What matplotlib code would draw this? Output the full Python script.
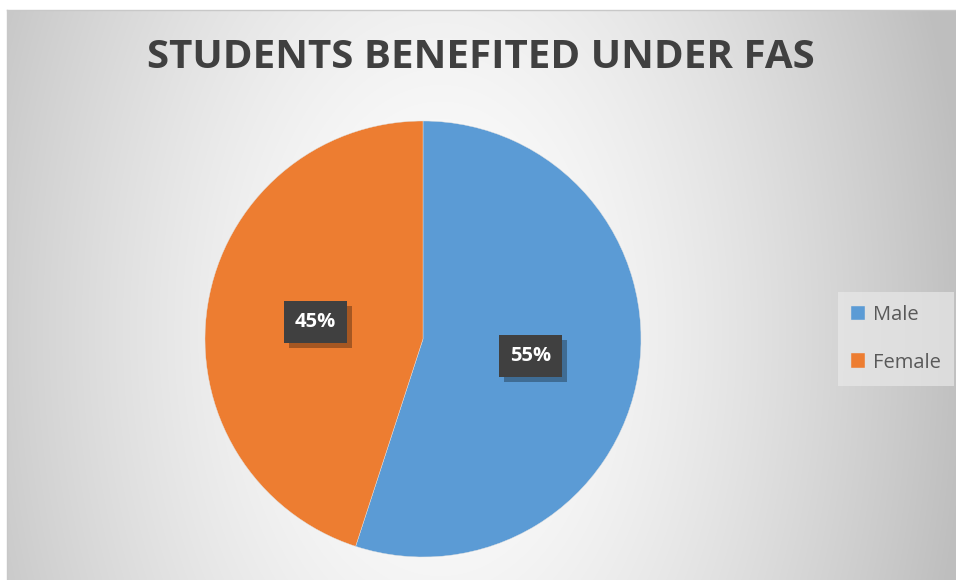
import numpy as np
import matplotlib
matplotlib.use('Agg')
from matplotlib import pyplot as plt
from matplotlib import patheffects as pe

title = 'STUDENTS BENEFITED UNDER FAS'
labels = ['Male', 'Female']
values = [55, 45]
colors = ['#5B9BD5', '#ED7D31']

W, H = 956, 580
fig = plt.figure(figsize=(W / 100, H / 100), dpi=100)
fig.patch.set_facecolor('white')

# radial grey background (chart area)
bg = fig.add_axes([0, 0, 1, 1])
yy, xx = np.mgrid[0:H, 0:W]
u = np.hypot((xx - 440) / 470.0, (yy - 330) / 756.0)
g = 255 - 54 * u ** 1.5
g = np.clip(g, 190, 255) / 255.0
img = np.dstack([g, g, g])
img[:10, :] = 1.0
img[:, :7] = 1.0
bg.imshow(img, extent=[0, W, H, 0], interpolation='bilinear')
bg.plot([7, W], [10, 10], color='#c8c8c8', lw=1)
bg.plot([7, 7], [10, H], color='#c8c8c8', lw=1)
bg.set_xlim(0, W), bg.set_ylim(H, 0)
bg.axis('off')

# pie
cx, cy, r = 423, 339, 218
ax = fig.add_axes([(cx - r) / W, (H - cy - r) / H, 2 * r / W, 2 * r / H])
wedges, texts, autotexts = ax.pie(values, colors=colors, startangle=90, counterclock=False,
                                  autopct='%1.0f%%', pctdistance=0.5,
                                  wedgeprops=dict(edgecolor='#e0e0e0', linewidth=0.3))
for t in autotexts:
    t.set_color('white')
    t.set_fontsize(14.5)
    t.set_fontweight('bold')
    t.set_fontfamily('Open Sans')
    t.set_bbox(dict(boxstyle='square,pad=0.55', facecolor='#404040', edgecolor='none'))
    t.get_bbox_patch().set_path_effects([
        pe.SimplePatchShadow(offset=(3.5, -3.5), shadow_rgbFace='black', alpha=0.3),
        pe.Normal()])
ax.set_xlim(-1, 1), ax.set_ylim(-1, 1)

fig.text(481 / W, 1 - 57 / H, title, ha='center', va='center', fontsize=29,
         fontweight='bold', color='#404040', family='Open Sans')

leg = fig.legend(wedges, labels, loc='center left', bbox_to_anchor=(838 / W, 1 - 339 / H),
                 frameon=True, labelspacing=1.35, handlelength=0.7, borderaxespad=0,
                 handleheight=0.7, handletextpad=0.4, borderpad=0.65, fancybox=False,
                 prop={'family': 'Open Sans', 'size': 14.5})
leg.get_frame().set_facecolor('#e8e8e8')
leg.get_frame().set_edgecolor('none')
leg.get_frame().set_alpha(0.7)
for t in leg.get_texts():
    t.set_color('#595959')

fig.savefig('out.png', dpi=100)
